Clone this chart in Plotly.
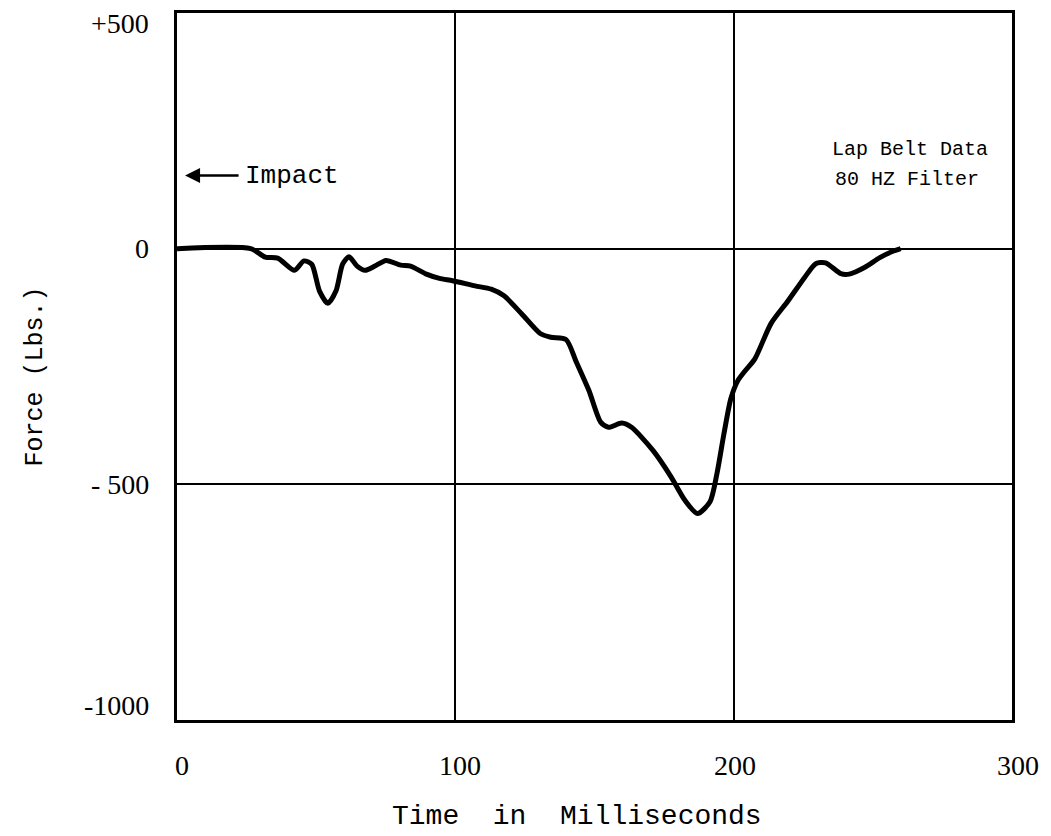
import plotly.graph_objects as go

# Time (ms) and force (lbs)
time_ms = [0, 26.5, 31.7, 36.2, 42.2, 45.6, 48.4, 51.2, 54.2, 57.1,
           59.5, 61.8, 64.7, 67.6, 71.1, 75.1, 80.4, 83.9, 89.6, 94.3,
           99, 107.1, 112.9, 117.5, 123.8, 130.5, 134.3, 139.8, 143.5, 148,
           152.2, 155, 159.8, 163.3, 171, 177.5, 182.5, 187, 191.5, 194,
           196.5, 199, 201.5, 204, 207.5, 213.5, 219.5, 225.5, 229.5, 233,
           238.5, 241.5, 247, 252.5, 257, 260]
force_lbs = [0, 0, -18, -20, -46, -26, -33, -90, -116, -90,
             -33, -17, -37, -46, -37, -25, -35, -37, -54, -63,
             -68, -79, -86, -100, -138, -180, -188, -193, -241, -301,
             -368, -379, -370, -379, -428, -484, -534, -562, -537, -477,
             -393, -318, -280, -260, -235, -158, -111, -61, -32, -30,
             -53, -54, -40, -19, -6, 0]

x_ticks = [0, 100, 200, 300]
x_tick_labels = ["0", "100", "200", "300"]
x_tick_shifts = [5, 5, 1, 6]
y_ticks = [500, 0, -500, -1000]
y_tick_labels = ["+500", "0", "- 500", "-1000"]
y_tick_shifts = [-10, 0, 0, 15]

MONO = "Liberation Mono"
SERIF = "Liberation Serif"

W, H = 1051, 836
L, R, T, B = 177, 39, 10, 116
pw, ph = W - L - R, H - T - B

fig = go.Figure()
fig.add_trace(go.Scatter(
    x=time_ms, y=force_lbs, mode="lines",
    line=dict(color="black", width=5, shape="spline", smoothing=0.7),
    hoverinfo="skip", showlegend=False,
))

for v, lab, s in zip(y_ticks, y_tick_labels, y_tick_shifts):
    fig.add_annotation(x=0, y=v, xref="x", yref="y", text=lab, showarrow=False,
                       xanchor="right", yanchor="middle", xshift=-26, yshift=s,
                       font=dict(family=SERIF, size=28, color="black"))
for v, lab, s in zip(x_ticks, x_tick_labels, x_tick_shifts):
    fig.add_annotation(x=v, y=-1000, xref="x", yref="y", text=lab, showarrow=False,
                       xanchor="center", yanchor="middle", yshift=-45, xshift=s,
                       font=dict(family=SERIF, size=28, color="black"))

# Impact arrow and label
fig.add_annotation(x=2.9, y=155, xref="x", yref="y", text="", showarrow=True,
                   ax=55, ay=0, arrowhead=2, arrowsize=1.2, arrowwidth=2.5,
                   arrowcolor="black")
fig.add_annotation(x=23.7, y=155, xref="x", yref="y", text="Impact", showarrow=False,
                   xanchor="left", yanchor="middle",
                   font=dict(family=MONO, size=26, color="black"))
fig.add_annotation(x=234.6, y=211, xref="x", yref="y", text="Lap Belt Data",
                   showarrow=False, xanchor="left", yanchor="middle",
                   font=dict(family=MONO, size=20, color="black"))
fig.add_annotation(x=235.7, y=147, xref="x", yref="y", text="80 HZ Filter",
                   showarrow=False, xanchor="left", yanchor="middle",
                   font=dict(family=MONO, size=20, color="black"))

# Axis titles
fig.add_annotation(x=(577 - L) / pw, y=(H - 817 - B) / ph, xref="paper", yref="paper",
                   text="Time  in  Milliseconds", showarrow=False,
                   xanchor="center", yanchor="middle",
                   font=dict(family=MONO, size=28, color="black"))
fig.add_annotation(x=(35 - L) / pw, y=(H - 375 - B) / ph, xref="paper", yref="paper",
                   text="Force (Lbs.)", textangle=-90, showarrow=False,
                   xanchor="center", yanchor="middle",
                   font=dict(family=MONO, size=25, color="black"))

fig.update_layout(
    width=W, height=H,
    margin=dict(l=L, r=R, t=T, b=B, pad=0),
    paper_bgcolor="white", plot_bgcolor="white",
    xaxis=dict(range=[0, 300], tickvals=[100, 200], showticklabels=False,
               showgrid=True, gridcolor="black", gridwidth=2, zeroline=False,
               showline=True, mirror=True, linecolor="black", linewidth=2.5, ticks=""),
    yaxis=dict(range=[-1000, 500], tickvals=[0, -500], showticklabels=False,
               showgrid=True, gridcolor="black", gridwidth=2, zeroline=False,
               showline=True, mirror=True, linecolor="black", linewidth=2.5, ticks=""),
)

fig.write_html("out.html", config={"displayModeBar": False},
               post_script="document.body.style.margin='0';document.body.style.overflow='hidden';")
